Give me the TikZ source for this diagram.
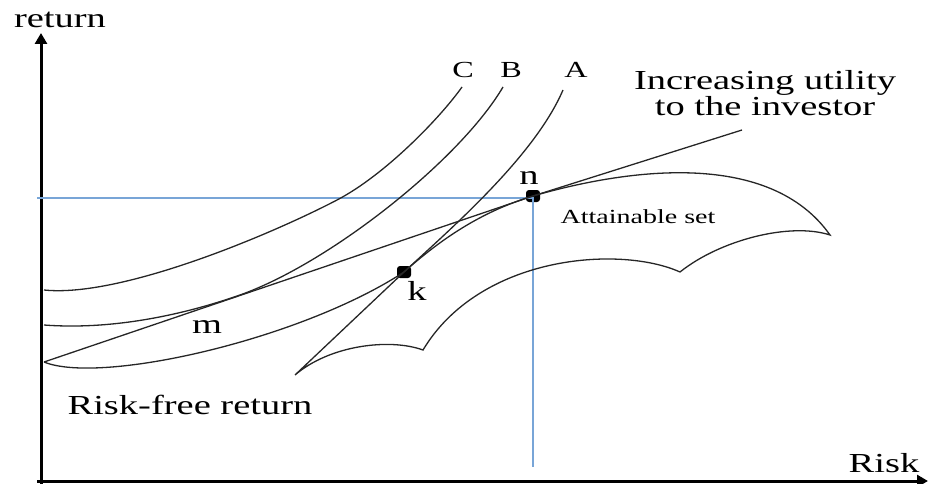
\documentclass[tikz,border=0pt]{standalone}
\usepackage{fontspec}
\setmainfont{Liberation Serif}[FakeStretch=1.4]
\usepackage{xcolor}
\usetikzlibrary{arrows.meta,positioning,calc}
\definecolor{guideblue}{RGB}{120,165,215}
\tikzset{
  axisarrow/.style={-{Triangle[length=11pt,width=12pt]}, draw=black, line width=3pt},
  guideline/.style={draw=guideblue, line width=1.5pt},
  curveline/.style={draw=black!85, line width=1.3pt},
  pointdot/.style={rectangle, fill=black, rounded corners=3pt,
    minimum width=14pt, minimum height=12pt, inner sep=0pt},
}

\begin{document}
\begin{tikzpicture}[
    x=1pt, y=-1pt,
    axislab/.style={font=\fontsize{27.5}{30}\selectfont, inner sep=0pt},
    curvelab/.style={font=\fontsize{23}{24}\selectfont, inner sep=0pt},
    setlab/.style={font=\fontsize{20}{22}\selectfont, inner sep=0pt}
  ]
  \useasboundingbox (0,0) rectangle (929,484);

  % ============ Axes ============
  \coordinate (ybot) at (41,484);
  \coordinate (ytop) at (41,33);
  \coordinate (xbeg) at (37,481);
  \coordinate (xend) at (928,481);
  \draw[axisarrow] (ybot) -- (ytop);
  \draw[axisarrow] (xbeg) -- (xend);
  \node[axislab] (retlab)  at (60,20)  {return};
  \node[axislab] (risklab) at (884,463) {Risk};

  % ============ Points on the curves ============
  \coordinate (rf)     at (44,362);
  \coordinate (cmlend) at (742,130);
  \node[pointdot] (n) at (533,196) {};
  \node[pointdot] (k) at (404,272) {};

  % ============ Blue guide lines through n ============
  \coordinate (hbeg) at (37,198);
  \coordinate (vend) at (533,467);
  \draw[guideline] (hbeg) -- (hbeg -| n.center) -- (vend);

  % ============ Attainable set ============
  \coordinate (tip)   at (295,375);
  \coordinate (rtip)  at (830,235);
  \coordinate (cuspa) at (680,272);
  \coordinate (cuspb) at (423,350);
  \draw[curveline] (tip) -- (k.center)
    .. controls (440,240) and (480,212) .. (n.center)
    .. controls (630,168) and (770,150) .. (rtip)
    .. controls (790,222) and (720,240) .. (cuspa)
    .. controls (620,245) and (480,255) .. (cuspb)
    .. controls (390,338) and (330,345) .. (tip);

  % ============ Capital market line ============
  \draw[curveline] (rf) -- (n.center) -- (cmlend);

  % ============ Indifference curves C, B, A ============
  \coordinate (cleft) at (44,290);
  \coordinate (ctop)  at (462,87);
  \coordinate (bleft) at (44,325);
  \coordinate (bmid)  at (240,295);
  \coordinate (btop)  at (503,87);
  \coordinate (atop)  at (563,90);
  \draw[curveline] (cleft) .. controls (120,298) and (270,235) .. (337,200)
    .. controls (385,175) and (440,118) .. (ctop);
  \draw[curveline] (bleft) .. controls (110,330) and (180,316) .. (bmid)
    .. controls (330,263) and (460,160) .. (btop);
  \draw[curveline] (rf) .. controls (100,385) and (300,340) .. (k.center)
    .. controls (455,225) and (535,155) .. (atop);

  % ============ Labels ============
  \node[curvelab] (clab) at (463,70) {C};
  \node[curvelab] (blab) at (511,70) {B};
  \node[curvelab] (alab) at (576,70) {A};
  \node[axislab, align=center, font=\fontsize{27.5}{24}\selectfont]
    (utillab) at (765,93) {Increasing utility\\to the investor};
  \node[setlab]  (setname) at (638,217) {Attainable set};
  \node[axislab] (rflab)   at (190,405) {Risk-free return};
  \node[axislab] (nlab) at (529,178) {n};
  \node[axislab] (klab) at (417,291) {k};
  \node[axislab] (mlab) at (207,327) {m};

\end{tikzpicture}
\end{document}
